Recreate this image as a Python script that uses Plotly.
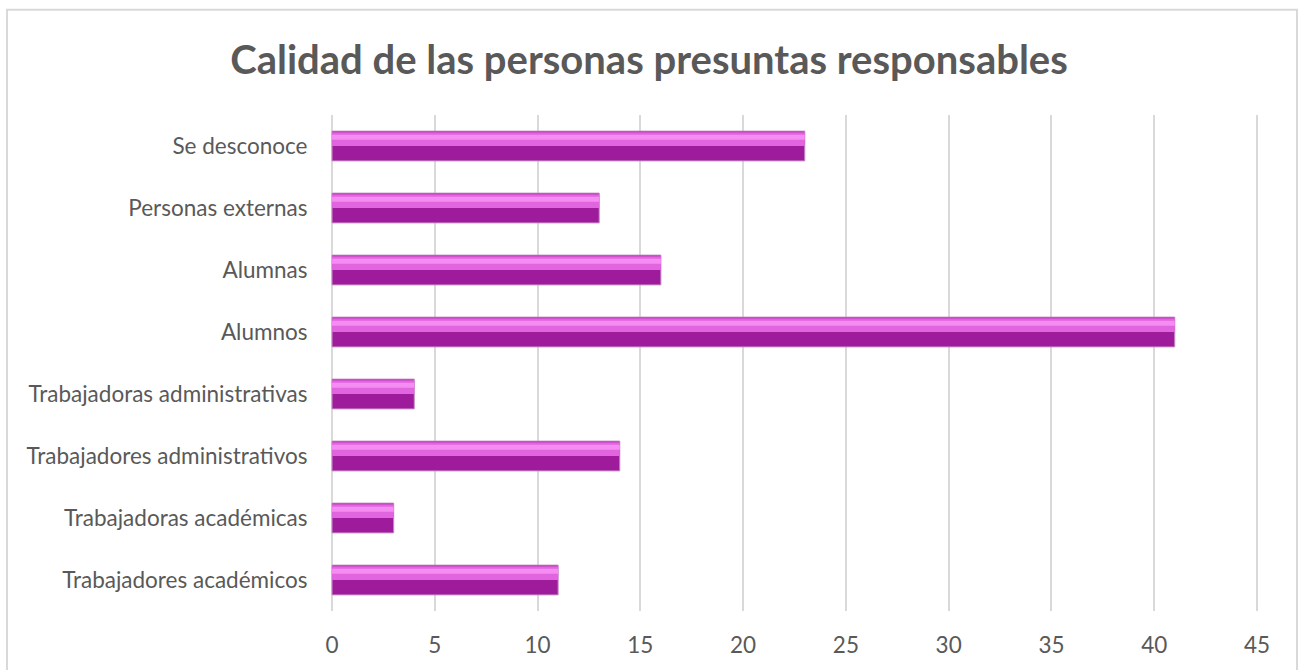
import plotly.graph_objects as go

categories = [
    "Trabajadores académicos",
    "Trabajadoras académicas",
    "Trabajadores administrativos",
    "Trabajadoras administrativas",
    "Alumnos",
    "Alumnas",
    "Personas externas",
    "Se desconoce",
]
values = [11, 3, 14, 4, 41, 16, 13, 23]
x_ticks = [0, 5, 10, 15, 20, 25, 30, 35, 40, 45]

L, R, T, B = 331, 40, 115, 55
PW, PH = 1298 - L - R, 670 - T - B

fig = go.Figure()
# base (dark lower face)
fig.add_trace(go.Bar(
    y=categories, x=values, orientation="h",
    width=0.48, offset=-0.24,
    marker=dict(color="#9E1B9C", line=dict(color="#C58BC4", width=1)),
    hoverinfo="x+y", showlegend=False,
))
# upper lighter face
fig.add_trace(go.Bar(
    y=categories, x=values, orientation="h",
    width=0.22, offset=0.0,
    marker=dict(color="#E065DE", line=dict(width=0)),
    hoverinfo="skip", showlegend=False,
))
# highlight strip
fig.add_trace(go.Bar(
    y=categories, x=values, orientation="h",
    width=0.08, offset=0.1,
    marker=dict(color="#F48CF2", line=dict(width=0)),
    hoverinfo="skip", showlegend=False,
))

fig.update_layout(
    barmode="overlay",
    width=1298, height=670,
    paper_bgcolor="white", plot_bgcolor="white",
    margin=dict(l=L, r=R, t=T, b=B),
    font=dict(family="Lato, Open Sans, sans-serif", color="#595959", size=22.5),
    title=dict(
        text="<b>Calidad de las personas presuntas responsables</b>",
        x=0.5, xanchor="center", y=0.91, yanchor="middle",
        font=dict(size=40, color="#595959", family="Lato, Open Sans, sans-serif"),
    ),
    xaxis=dict(
        range=[-0.05, 45.05], tickvals=x_ticks, ticktext=[str(t) for t in x_ticks],
        showgrid=True, gridcolor="#D9D9D9", gridwidth=2,
        zeroline=True, zerolinecolor="#D9D9D9", zerolinewidth=2,
        showline=False, ticks="outside", ticklen=14, tickcolor="rgba(0,0,0,0)",
        tickfont=dict(size=22.5, color="#595959"),
    ),
    yaxis=dict(
        categoryorder="array", categoryarray=categories,
        range=[-0.5, 7.5],
        showgrid=False, zeroline=False, showline=False,
        ticks="outside", ticklen=18, tickcolor="rgba(0,0,0,0)",
        tickfont=dict(size=22.5, color="#595959"),
    ),
    shapes=[dict(
        type="rect", xref="paper", yref="paper",
        x0=(7 - L) / PW, x1=(1297 - L) / PW,
        y0=-0.3, y1=(PH + T - 9) / PH,
        line=dict(color="#D9D9D9", width=2), fillcolor="rgba(0,0,0,0)",
        layer="below",
    )],
)
fig.write_html("out.html", config={"displayModeBar": False},
               post_script="document.body.style.margin='0';")
